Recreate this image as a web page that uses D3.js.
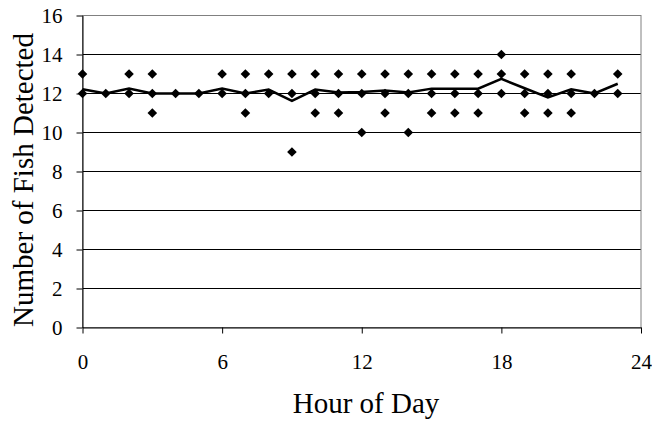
<!DOCTYPE html>
<html>
<head>
<meta charset="utf-8">
<script src="https://cdn.jsdelivr.net/npm/d3@7"></script>
<style>
  body { margin: 0; background: #fff; }
  text { font-family: "Liberation Serif", "Times New Roman", serif; fill: #000; }
</style>
</head>
<body>
<div id="svg-area"></div>
<script>
var hours = [0, 1, 2, 3, 4, 5, 6, 7, 8, 9, 10, 11, 12, 13, 14, 15, 16, 17, 18, 19, 20, 21, 22, 23];
// fish counts seen at each hour (distinct values only, overlaps hidden)
var fishCounts = [
  [13, 12], [12], [13, 12], [13, 12, 11], [12], [12], [13, 12], [13, 12, 11],
  [13, 12], [13, 12, 9], [13, 12, 11], [13, 12, 11], [13, 12, 10], [13, 12, 11],
  [13, 12, 10], [13, 12, 11], [13, 12, 11], [13, 12, 11], [14, 13, 12], [13, 12, 11],
  [13, 12, 11], [13, 12, 11], [12], [13, 12]
];
// hourly mean line
var meanCounts = [12.22, 12, 12.25, 12, 12, 12, 12.25, 12, 12.2, 11.62, 12.2, 12.05,
  12.08, 12.15, 12.05, 12.25, 12.25, 12.25, 12.75, 12.27, 11.8, 12.22, 12, 12.5];
var xTicks = [0, 6, 12, 18, 24];
var yTicks = [0, 2, 4, 6, 8, 10, 12, 14, 16];

var svgWidth = 652;
var svgHeight = 423;
var margin = { top: 15.5, right: 11, bottom: 95.5, left: 82.5 };
var chartwidth = svgWidth - margin.left - margin.right;
var chartheight = svgHeight - margin.top - margin.bottom;

var svg = d3.select("#svg-area")
  .append("svg")
  .attr("width", svgWidth)
  .attr("height", svgHeight);

var chartGroup = svg.append("g")
  .attr("transform", `translate(${margin.left}, ${margin.top})`);

var xScale = d3.scaleLinear().domain([0, 24]).range([0, chartwidth]);
var yScale = d3.scaleLinear().domain([0, 16]).range([chartheight, 0]);

// gridlines
chartGroup.selectAll("line.grid")
  .data(yTicks.filter(t => t > 0 && t < 16))
  .enter()
  .append("line")
  .attr("class", "grid")
  .attr("x1", 0)
  .attr("x2", chartwidth)
  .attr("y1", d => yScale(d))
  .attr("y2", d => yScale(d))
  .attr("stroke", "#000")
  .attr("stroke-width", 1);

// plot frame
chartGroup.append("rect")
  .attr("x", 0)
  .attr("y", 0)
  .attr("width", chartwidth)
  .attr("height", chartheight)
  .attr("fill", "none")
  .attr("stroke", "#808080")
  .attr("stroke-width", 1);

// axes
var bottomAxis = d3.axisBottom(xScale).tickValues(xTicks).tickSize(6).tickSizeOuter(0).tickPadding(21);
var leftAxis = d3.axisLeft(yScale).tickValues(yTicks).tickSize(6).tickSizeOuter(0).tickPadding(14);

var xAxisG = chartGroup.append("g")
  .attr("transform", `translate(0, ${chartheight})`)
  .call(bottomAxis);
var yAxisG = chartGroup.append("g").call(leftAxis);

[xAxisG, yAxisG].forEach(function(g) {
  g.attr("font-family", null).attr("font-size", null);
  g.selectAll("path.domain").attr("stroke", "#000");
  g.selectAll(".tick line").attr("stroke", "#000");
  g.selectAll("text")
    .attr("font-family", "Liberation Serif")
    .attr("font-size", 21)
    .attr("fill", "#000");
});

// points
var points = [];
hours.forEach(function(h, i) {
  fishCounts[i].forEach(function(c) { points.push({ hour: h, count: c }); });
});

var diamond = d3.symbol().type(d3.symbolSquare).size(46);
chartGroup.selectAll("path.pt")
  .data(points)
  .enter()
  .append("path")
  .attr("class", "pt")
  .attr("d", diamond)
  .attr("transform", d => `translate(${xScale(d.hour)}, ${yScale(d.count)}) rotate(45)`)
  .attr("fill", "#000");

// mean line
var line = d3.line()
  .x((d, i) => xScale(hours[i]))
  .y(d => yScale(d));

chartGroup.append("path")
  .datum(meanCounts)
  .attr("d", line)
  .attr("fill", "none")
  .attr("stroke", "#000")
  .attr("stroke-width", 2.5)
  .attr("stroke-linejoin", "miter");

// axis titles
svg.append("text")
  .attr("transform", "translate(33, 180) rotate(-90)")
  .attr("text-anchor", "middle")
  .style("font-size", "29px")
  .text("Number of Fish Detected");

svg.append("text")
  .attr("x", 366)
  .attr("y", 413)
  .attr("text-anchor", "middle")
  .style("font-size", "29px")
  .text("Hour of Day");
</script>
</body>
</html>
